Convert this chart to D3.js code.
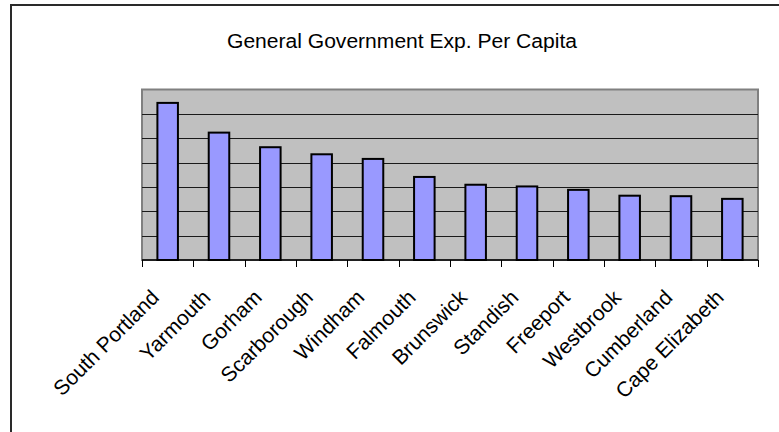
<!DOCTYPE html>
<html>
<head>
<meta charset="utf-8">
<script src="https://cdn.jsdelivr.net/npm/d3@7"></script>
<style>
  html, body { margin: 0; padding: 0; background: #fff; }
  svg { display: block; }
</style>
</head>
<body>
<script>
const categories = ["South Portland", "Yarmouth", "Gorham", "Scarborough", "Windham", "Falmouth",
  "Brunswick", "Standish", "Freeport", "Westbrook", "Cumberland", "Cape Elizabeth"];
const values = [645, 523, 463, 434, 415, 341, 309, 302, 288, 264, 262, 251];
const yTicks = [0, 100, 200, 300, 400, 500, 600, 700];
const title = "General Government Exp. Per Capita";

const W = 779, H = 432;
const plot = { left: 142, right: 758, top: 89.5, bottom: 260 };

const svg = d3.select("body").append("svg").attr("width", W).attr("height", H);

// outer chart border (extends beyond the visible picture on right/bottom)
svg.append("rect")
  .attr("x", 11).attr("y", 5).attr("width", 820).attr("height", 460)
  .attr("fill", "#fff").attr("stroke", "#2a2a2a").attr("stroke-width", 2);

const x = d3.scaleBand().domain(categories).range([plot.left, plot.right]).paddingInner(0.6).paddingOuter(0.3);
const y = d3.scaleLinear().domain([0, 700]).range([plot.bottom, plot.top]);

// plot area
svg.append("rect")
  .attr("x", plot.left).attr("y", plot.top)
  .attr("width", plot.right - plot.left).attr("height", plot.bottom - plot.top)
  .attr("fill", "#c0c0c0").attr("stroke", "#808080").attr("stroke-width", 2);

// gridlines
svg.append("g")
  .selectAll("line").data(yTicks.slice(1, -1)).join("line")
  .attr("x1", plot.left).attr("x2", plot.right)
  .attr("y1", d => Math.round(y(d)) + 0.5).attr("y2", d => Math.round(y(d)) + 0.5)
  .attr("stroke", "#1a1a1a").attr("stroke-width", 1);

// bars
svg.append("g")
  .selectAll("rect").data(categories).join("rect")
  .attr("x", d => x(d))
  .attr("y", (d, i) => y(values[i]))
  .attr("width", x.bandwidth())
  .attr("height", (d, i) => y(0) - y(values[i]))
  .attr("fill", "#9999ff").attr("stroke", "#000").attr("stroke-width", 2);

// x axis: ticks between categories
const tickPos = d3.range(categories.length + 1).map(i => plot.left + i * (plot.right - plot.left) / categories.length);
const ax = svg.append("g");
ax.append("line").attr("x1", plot.left).attr("x2", plot.right)
  .attr("y1", plot.bottom).attr("y2", plot.bottom).attr("stroke", "#000").attr("stroke-width", 1.5);
ax.selectAll("line.t").data(tickPos).join("line").attr("class", "t")
  .attr("x1", d => Math.round(d) + 0.5).attr("x2", d => Math.round(d) + 0.5)
  .attr("y1", plot.bottom).attr("y2", plot.bottom + 7)
  .attr("stroke", "#000").attr("stroke-width", 1);

// category labels rotated -45°
ax.selectAll("text").data(categories).join("text")
  .attr("transform", d => `translate(${x(d) + x.bandwidth() / 2 - 18},${plot.bottom + 28}) rotate(-45)`)
  .attr("text-anchor", "end")
  .attr("dy", "0.72em")
  .attr("font-family", "Liberation Sans, Arial, sans-serif")
  .attr("font-size", 21)
  .attr("fill", "#000")
  .text(d => d);

// title
svg.append("text")
  .attr("x", 402).attr("y", 48)
  .attr("text-anchor", "middle")
  .attr("font-family", "Liberation Sans, Arial, sans-serif")
  .attr("font-size", 19.5)
  .attr("textLength", 350)
  .attr("lengthAdjust", "spacingAndGlyphs")
  .attr("fill", "#000")
  .text(title);
</script>
</body>
</html>
